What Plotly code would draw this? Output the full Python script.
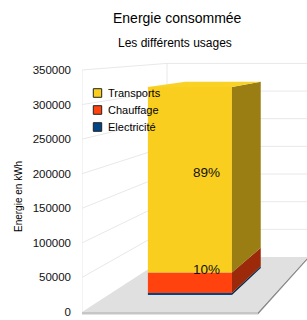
import plotly.graph_objects as go

# ---------------- data ----------------
categories = ["Electricité", "Chauffage", "Transports"]
values = [3100, 31700, 286000]
front_colors = ["#004586", "#FF420E", "#F9CE1F"]
side_colors = ["#00284E", "#9C2A0A", "#9A7E13"]
top_color = "#F9D225"
tick_values = [0, 50000, 100000, 150000, 200000, 250000, 300000, 350000]
tick_labels = ["0", "50000", "100000", "150000", "200000", "250000", "300000", "350000"]
chart_title = "Energie consommée"
chart_subtitle = "Les différents usages"
y_title = "Energie en kWh"

# ---------------- page / projection geometry (style) ----------------
W, H = 307, 320
LEFT = 82                      # pixel where the front-left wall edge sits
PX_Y = 242 / 350000            # pixels per value unit on the front plane
PX_X = 176                     # pixels per horizontal unit (floor width) on the front plane
ZERO_PX = 312                  # pixel row of value 0 on the front plane
DEPTH_DX = 85 / PX_X           # horizontal shift of the back plane (axis units)
DEPTH_DY = 55 / PX_Y           # vertical shift of the back plane (value units)
SHRINK = 0.2                   # perspective shrink at the back plane
BAR_U = (0.24, 0.749)
BAR_D = (0.309, 0.80)
SLAB = 2.6 / PX_Y
YMAX = tick_values[-1]


def proj(u, v, d):
    s = 1 - SHRINK * d
    return DEPTH_DX * d + u * s, DEPTH_DY * d + v * s


def px_to_paper(px, py):
    return (px - LEFT) / (W - LEFT), 1 - py / H


def path(points):
    return "M " + " L ".join(f"{x},{y}" for x, y in points) + " Z"


fig = go.Figure()
shapes = []

# floor slab
floor_top = [proj(0, 0, 0), proj(1, 0, 0), proj(1, 0, 1), proj(0, 0, 1)]
slab_front = [proj(0, -SLAB, 0), proj(1, -SLAB, 0), proj(1, 0, 0), proj(0, 0, 0)]
slab_side = [proj(1, -SLAB, 0), proj(1, -SLAB, 1), proj(1, 0, 1), proj(1, 0, 0)]
shapes.append(dict(type="path", path=path(slab_front), fillcolor="#C6C6C6", line=dict(width=0), layer="below", xref="x", yref="y"))
shapes.append(dict(type="path", path=path(slab_side), fillcolor="#8A8A8A", line=dict(width=0), layer="below", xref="x", yref="y"))
shapes.append(dict(type="path", path=path(floor_top), fillcolor="#E0E0E0", line=dict(width=0), layer="below", xref="x", yref="y"))

# walls grid
grid_color = "#E8E8E8"
for v in tick_values[1:]:
    x0, y0 = proj(0, v, 0)
    x1, y1 = proj(0, v, 1)
    x2, y2 = proj(1, v, 1)
    shapes.append(dict(type="line", x0=x0, y0=y0, x1=x1, y1=y1, line=dict(color=grid_color, width=1), layer="below", xref="x", yref="y"))
    shapes.append(dict(type="line", x0=x1, y0=y1, x1=x2, y1=y2, line=dict(color=grid_color, width=1), layer="below", xref="x", yref="y"))
for d in (0, 1):
    xa, ya = proj(0, 0, d)
    xb, yb = proj(0, YMAX, d)
    shapes.append(dict(type="line", x0=xa, y0=ya, x1=xb, y1=yb, line=dict(color=grid_color, width=1), layer="below", xref="x", yref="y"))

# bars
s_front = 1 - SHRINK * BAR_D[0]
total = sum(values)
cum = 0
annotations = []
for name, val, fc, sc in zip(categories, values, front_colors, side_colors):
    v0, v1 = cum, cum + val
    cx, _ = proj((BAR_U[0] + BAR_U[1]) / 2, 0, BAR_D[0])
    _, base = proj(0, v0, BAR_D[0])
    fig.add_trace(go.Bar(x=[cx], y=[val * s_front], base=[base],
                         width=(BAR_U[1] - BAR_U[0]) * s_front,
                         marker=dict(color=fc, line=dict(width=0)),
                         name=name, showlegend=False, hoverinfo="skip"))
    side = [proj(BAR_U[1], v0, BAR_D[0]), proj(BAR_U[1], v0, BAR_D[1]),
            proj(BAR_U[1], v1, BAR_D[1]), proj(BAR_U[1], v1, BAR_D[0])]
    fig.add_trace(go.Scatter(x=[p[0] for p in side], y=[p[1] for p in side],
                             fill="toself", fillcolor=sc, mode="lines",
                             line=dict(width=0, color=sc), showlegend=False, hoverinfo="skip"))
    pct = round(val / total * 100)
    if pct >= 5:
        lx, ly = proj((BAR_U[0] + BAR_U[1]) / 2, (v0 + v1) / 2, (BAR_D[0] + BAR_D[1]) / 2)
        annotations.append(dict(x=lx, y=ly, xref="x", yref="y", text=f"{pct}%", showarrow=False,
                                xanchor="center", yanchor="middle",
                                font=dict(size=13.5, color="#111111")))
    cum = v1

top = [proj(BAR_U[0], total, BAR_D[0]), proj(BAR_U[1], total, BAR_D[0]),
       proj(BAR_U[1], total, BAR_D[1]), proj(BAR_U[0], total, BAR_D[1])]
fig.add_trace(go.Scatter(x=[p[0] for p in top], y=[p[1] for p in top],
                         fill="toself", fillcolor=top_color, mode="lines",
                         line=dict(width=0, color=top_color), showlegend=False, hoverinfo="skip"))

# titles
tx, ty = px_to_paper(177.5, 18)
annotations.append(dict(x=tx, y=ty, xref="paper", yref="paper", text=chart_title, showarrow=False,
                        xanchor="center", yanchor="middle", font=dict(size=14, color="#000000")))
sx, sy = px_to_paper(175, 43)
annotations.append(dict(x=sx, y=sy, xref="paper", yref="paper", text=chart_subtitle, showarrow=False,
                        xanchor="center", yanchor="middle", font=dict(size=12, color="#000000")))
ax_, ay_ = px_to_paper(18, 197)
annotations.append(dict(x=ax_, y=ay_, xref="paper", yref="paper", text=y_title, showarrow=False,
                        xanchor="center", yanchor="middle",
                        textangle=-90, font=dict(size=10, color="#000000")))

# legend (top to bottom: Transports, Chauffage, Electricité)
for i, idx in enumerate([2, 1, 0]):
    cy = 93 + 17 * i
    x0, y0 = px_to_paper(93.3, cy - 4.3)
    x1, y1 = px_to_paper(101.7, cy + 4.3)
    shapes.append(dict(type="rect", xref="paper", yref="paper", x0=x0, y0=y0, x1=x1, y1=y1,
                       fillcolor=front_colors[idx], line=dict(color="#222222", width=1)))
    lx, ly = px_to_paper(106, cy)
    annotations.append(dict(x=lx, y=ly, xref="paper", yref="paper", text=categories[idx], showarrow=False,
                            xanchor="left", yanchor="middle", font=dict(size=11, color="#000000")))

fig.update_layout(
    width=W, height=H,
    margin=dict(l=LEFT, r=0, t=0, b=0),
    paper_bgcolor="white", plot_bgcolor="white",
    font=dict(family="Liberation Sans, Arial, sans-serif", color="#000000"),
    barmode="overlay",
    showlegend=False,
    hovermode=False,
    shapes=shapes,
    annotations=annotations,
    xaxis=dict(range=[0, (W - LEFT) / PX_X], visible=False, fixedrange=True),
    yaxis=dict(range=[(ZERO_PX - H) / PX_Y, ZERO_PX / PX_Y], tickvals=tick_values, ticktext=tick_labels,
               showgrid=False, zeroline=False, showline=False, ticks="",
               ticklabelstandoff=10, tickfont=dict(size=11.5, color="#111111"), fixedrange=True),
)

fig.write_html("out.html", config={"displayModeBar": False},
               post_script="document.body.style.margin='0px';")
